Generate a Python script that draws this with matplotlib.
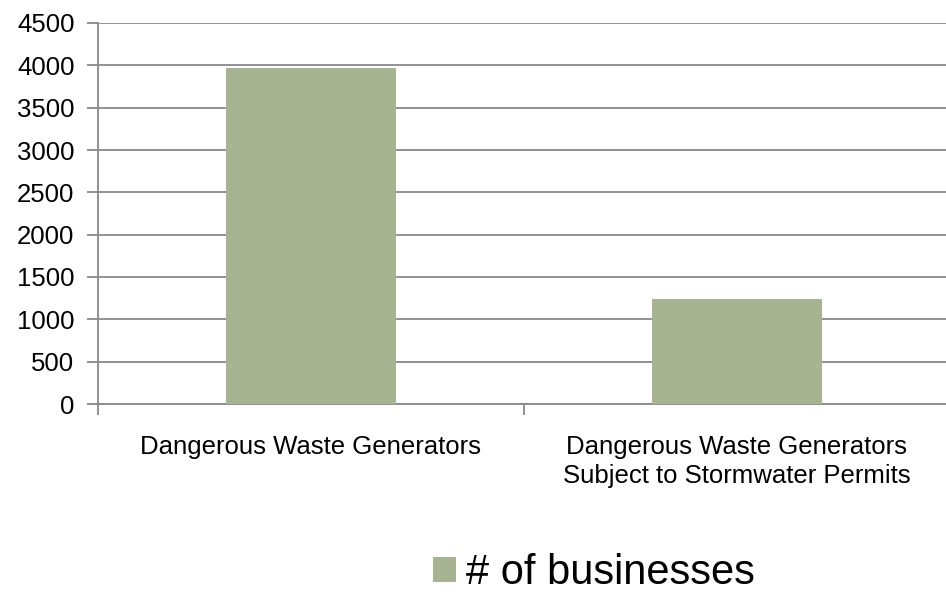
import numpy as np
import matplotlib.pyplot as plt
from matplotlib.patches import Patch

plt.rcParams['font.family'] = ['Liberation Sans', 'DejaVu Sans']

categories = ["Dangerous Waste Generators",
              "Dangerous Waste Generators\nSubject to Stormwater Permits"]
businesses = [3965, 1236]
series_name = "# of businesses"

bar_color = '#a6b491'
grid_color = '#898989'

fig = plt.figure(figsize=(9.46, 5.92), dpi=100)
ax = fig.add_axes([98 / 946, 188 / 592, 852 / 946, 381 / 592])

x = np.arange(len(categories))
ax.bar(x, businesses, width=0.4, color=bar_color, zorder=3)

ax.set_xlim(-0.5, len(categories) - 0.5)
ax.set_ylim(0, 4500)
ax.set_yticks(np.arange(0, 4501, 500))
ax.yaxis.grid(True, color=grid_color, linewidth=1.3, zorder=0)
ax.set_axisbelow(True)

# category boundaries as major ticks, names as minor ticks
ax.set_xticks(np.arange(-0.5, len(categories), 1.0))
ax.set_xticklabels([])
ax.set_xticks(x, minor=True)
ax.set_xticklabels(categories, minor=True, linespacing=1.3)
ax.tick_params(axis='x', which='minor', length=0, pad=22, labelsize=18.5)
ax.tick_params(axis='x', which='major', length=8, color=grid_color, width=1.3)
ax.tick_params(axis='y', length=8, color=grid_color, width=1.3, labelsize=18.5, pad=9)

for s in ['top', 'right']:
    ax.spines[s].set_visible(False)
for s in ['left', 'bottom']:
    ax.spines[s].set_color(grid_color)
    ax.spines[s].set_linewidth(1.3)

handle = Patch(facecolor=bar_color, edgecolor='none')
fig.legend([handle], [series_name], loc='center', bbox_to_anchor=(594 / 946, 1 - 573 / 592),
           frameon=False, fontsize=30, handlelength=0.55, handleheight=0.55,
           handletextpad=0.25, borderpad=0)

fig.savefig("out.png", dpi=100)
